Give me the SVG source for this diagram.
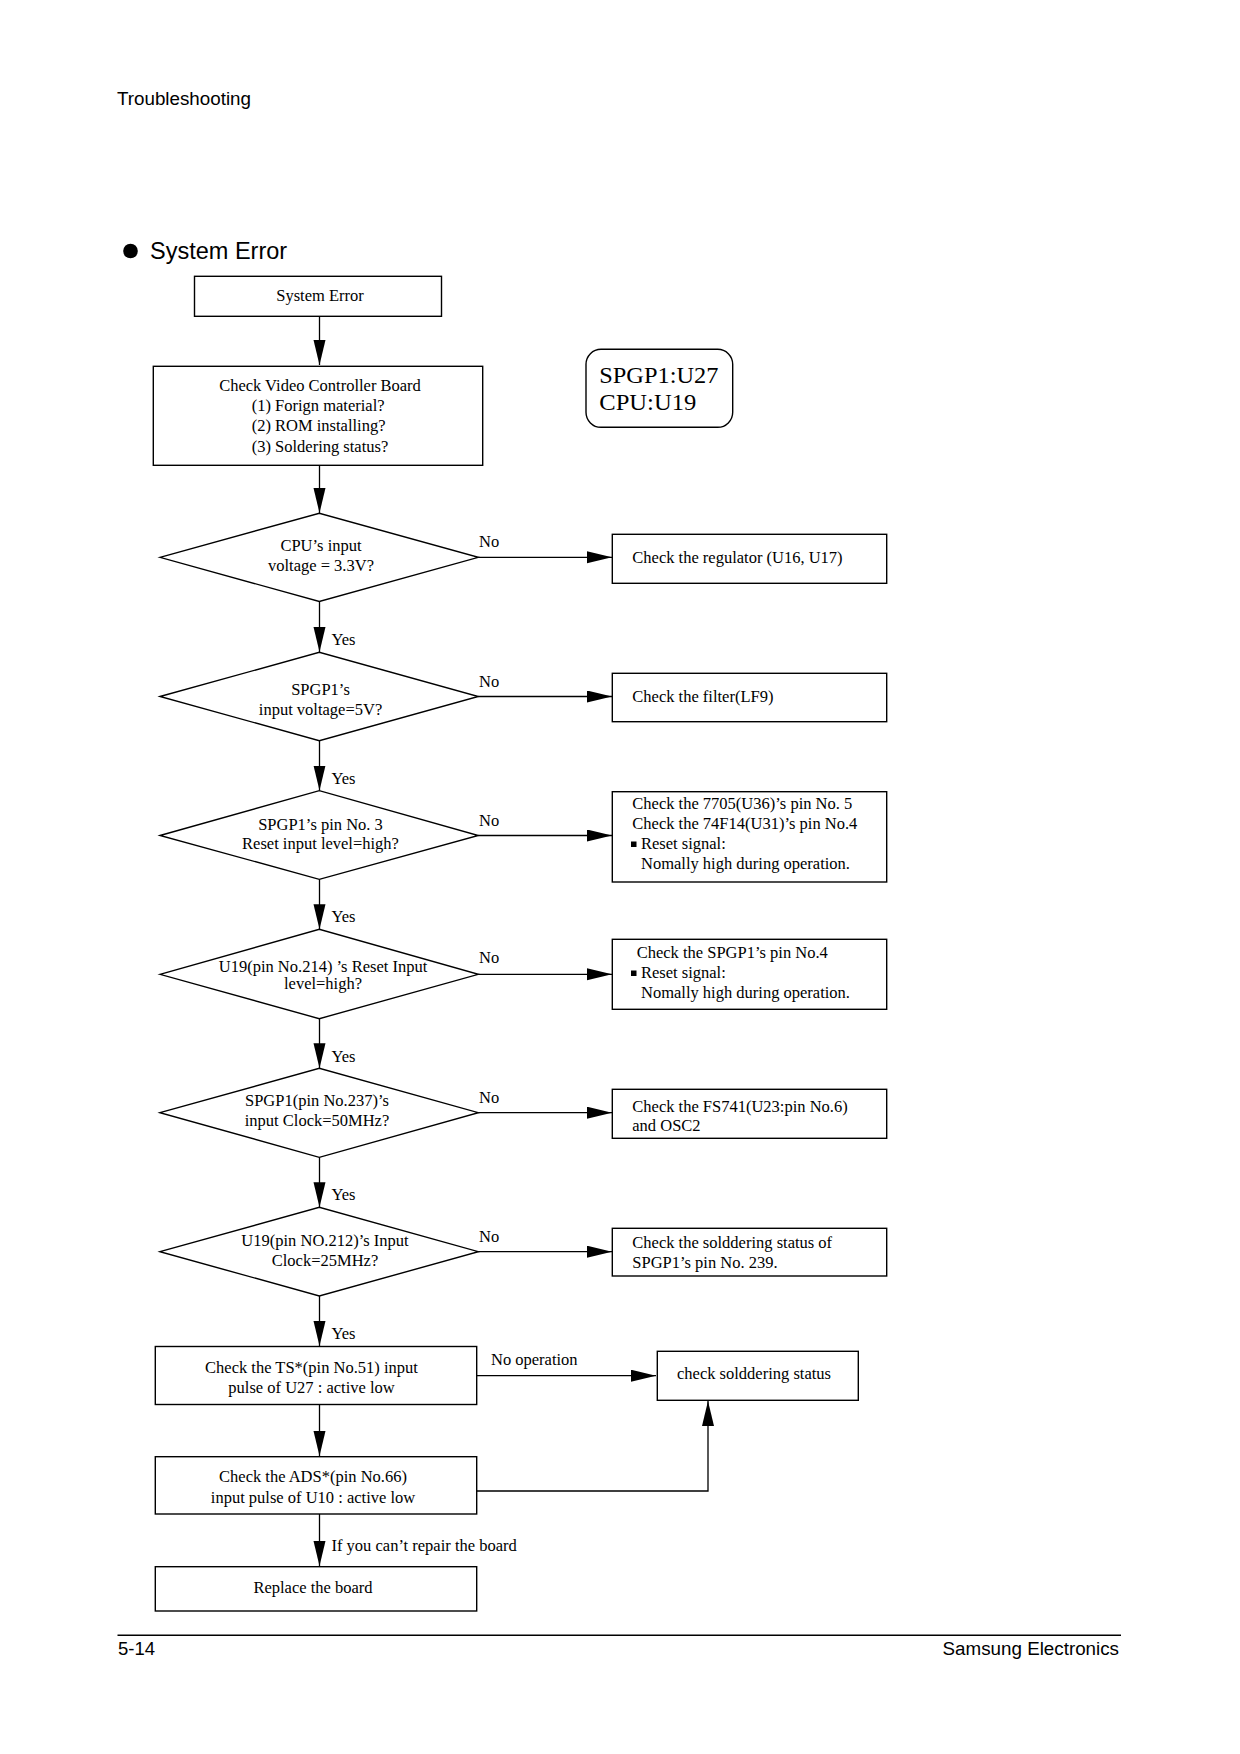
<svg xmlns="http://www.w3.org/2000/svg" width="1240" height="1754" viewBox="0 0 1240 1754">
<style>
.bg{fill:#ffffff}
.box{fill:none;stroke:#000;stroke-width:1.4}
.ln{fill:none;stroke:#000;stroke-width:1.3}
.t{font-family:'Liberation Serif','Times New Roman',serif;font-size:16.5px;fill:#000}
.c{text-anchor:middle}
.h{font-family:'Liberation Sans',Arial,sans-serif;fill:#000}
</style>
<defs>
<marker id="ah" markerUnits="userSpaceOnUse" markerWidth="26" markerHeight="13" refX="25" refY="6" orient="auto">
<path d="M0,0 L25,6 L0,12 z" fill="#000"/>
</marker>
</defs>
<rect class="bg" x="0" y="0" width="1240" height="1754"/>

<g id="header">
<text class="h" x="117" y="105" font-size="18.8">Troubleshooting</text>
<circle cx="130.5" cy="251" r="7.3" fill="#000"/>
<text class="h" x="150" y="259" font-size="23.5">System Error</text>
</g>

<g id="connectors">
<line class="ln" x1="319.5" y1="316.3" x2="319.5" y2="365" marker-end="url(#ah)"/>
<line class="ln" x1="319.5" y1="465.3" x2="319.5" y2="513" marker-end="url(#ah)"/>
<line class="ln" x1="319.5" y1="601.5" x2="319.5" y2="652" marker-end="url(#ah)"/>
<line class="ln" x1="319.5" y1="740.5" x2="319.5" y2="790.5" marker-end="url(#ah)"/>
<line class="ln" x1="319.5" y1="879.3" x2="319.5" y2="929.3" marker-end="url(#ah)"/>
<line class="ln" x1="319.5" y1="1018.7" x2="319.5" y2="1068.3" marker-end="url(#ah)"/>
<line class="ln" x1="319.5" y1="1157.3" x2="319.5" y2="1207.3" marker-end="url(#ah)"/>
<line class="ln" x1="319.5" y1="1296" x2="319.5" y2="1346" marker-end="url(#ah)"/>
<line class="ln" x1="319.5" y1="1404.5" x2="319.5" y2="1456" marker-end="url(#ah)"/>
<line class="ln" x1="319.5" y1="1514" x2="319.5" y2="1566" marker-end="url(#ah)"/>
<line class="ln" x1="478.3" y1="557.3" x2="612" y2="557.3" marker-end="url(#ah)"/>
<line class="ln" x1="478.3" y1="696.5" x2="612" y2="696.5" marker-end="url(#ah)"/>
<line class="ln" x1="478.3" y1="835.5" x2="612" y2="835.5" marker-end="url(#ah)"/>
<line class="ln" x1="478.3" y1="974.3" x2="612" y2="974.3" marker-end="url(#ah)"/>
<line class="ln" x1="478.3" y1="1112.7" x2="612" y2="1112.7" marker-end="url(#ah)"/>
<line class="ln" x1="478.3" y1="1251.7" x2="612" y2="1251.7" marker-end="url(#ah)"/>
<line class="ln" x1="476.7" y1="1375.7" x2="656" y2="1375.7" marker-end="url(#ah)"/>
<polyline class="ln" points="476.7,1491 708,1491 708,1401" marker-end="url(#ah)"/>
<g class="t">
<text x="479" y="547.3">No</text>
<text x="479" y="686.5">No</text>
<text x="479" y="825.7">No</text>
<text x="479" y="963.3">No</text>
<text x="479" y="1102.7">No</text>
<text x="479" y="1241.7">No</text>
<text x="331.5" y="645">Yes</text>
<text x="331.5" y="784">Yes</text>
<text x="331.5" y="922">Yes</text>
<text x="331.5" y="1061.5">Yes</text>
<text x="331.5" y="1200">Yes</text>
<text x="331.5" y="1339">Yes</text>
<text x="491" y="1365">No operation</text>
<text x="331.5" y="1551">If you can’t repair the board</text>
</g>
</g>

<g id="n_start">
<rect class="box" x="194.5" y="276.3" width="247" height="40"/>
<text class="t c" x="320" y="301">System Error</text>
</g>

<g id="n_check_video">
<rect class="box" x="153.3" y="366.3" width="329.4" height="99"/>
<text class="t c" x="320" y="390.7">Check Video Controller Board</text>
<text class="t" x="251.7" y="411.3">(1) Forign material?</text>
<text class="t" x="251.7" y="431.3">(2) ROM installing?</text>
<text class="t" x="251.7" y="451.7">(3) Soldering status?</text>
</g>

<g id="n_legend">
<rect class="box" x="586" y="349.3" width="146.7" height="78" rx="15" ry="15"/>
<text x="599.3" y="383.3" font-family="'Liberation Serif','Times New Roman',serif" font-size="24" textLength="119" lengthAdjust="spacingAndGlyphs">SPGP1:U27</text>
<text x="599.3" y="410" font-family="'Liberation Serif','Times New Roman',serif" font-size="24" textLength="97" lengthAdjust="spacingAndGlyphs">CPU:U19</text>
</g>

<g id="d1">
<polygon class="box" points="160,557.3 319.3,513.3 478.3,557.3 319.3,601.5"/>
<text class="t c" x="321" y="550.7">CPU’s input</text>
<text class="t c" x="321" y="571">voltage = 3.3V?</text>
</g>
<g id="d2">
<polygon class="box" points="160,696.5 319.3,652.3 478.3,696.5 319.3,740.7"/>
<text class="t c" x="320.5" y="695">SPGP1’s</text>
<text class="t c" x="320.5" y="715">input voltage=5V?</text>
</g>
<g id="d3">
<polygon class="box" points="160,835.5 319.3,790.7 478.3,835.5 319.3,879.3"/>
<text class="t c" x="320.5" y="830">SPGP1’s pin No. 3</text>
<text class="t c" x="320.5" y="849">Reset input level=high?</text>
</g>
<g id="d4">
<polygon class="box" points="160,974.3 319.3,929.3 478.3,974.3 319.3,1018.7"/>
<text class="t c" x="323" y="972">U19(pin No.214) ’s Reset Input</text>
<text class="t c" x="323" y="989">level=high?</text>
</g>
<g id="d5">
<polygon class="box" points="160,1112.7 319.3,1068.3 478.3,1112.7 319.3,1157.3"/>
<text class="t c" x="317" y="1105.7">SPGP1(pin No.237)’s</text>
<text class="t c" x="317" y="1125.7">input Clock=50MHz?</text>
</g>
<g id="d6">
<polygon class="box" points="160,1251.7 319.3,1207.3 478.3,1251.7 319.3,1296"/>
<text class="t c" x="325" y="1246">U19(pin NO.212)’s Input</text>
<text class="t c" x="325" y="1266">Clock=25MHz?</text>
</g>

<g id="b1">
<rect class="box" x="612.3" y="534.3" width="274.4" height="49"/>
<text class="t" x="632.3" y="562.7">Check the regulator (U16, U17)</text>
</g>
<g id="b2">
<rect class="box" x="612.3" y="673.3" width="274.4" height="48.4"/>
<text class="t" x="632.3" y="701.7">Check the filter(LF9)</text>
</g>
<g id="b3">
<rect class="box" x="612.3" y="791.7" width="274.4" height="90.3"/>
<text class="t" x="632.3" y="809">Check the 7705(U36)’s pin No. 5</text>
<text class="t" x="632.3" y="829">Check the 74F14(U31)’s pin No.4</text>
<rect x="631" y="841.5" width="5.5" height="5.5" fill="#000"/>
<text class="t" x="641" y="849">Reset signal:</text>
<text class="t" x="641" y="869">Nomally high during operation.</text>
</g>
<g id="b4">
<rect class="box" x="612.3" y="939.3" width="274.4" height="70"/>
<text class="t" x="636.7" y="958">Check the SPGP1’s pin No.4</text>
<rect x="631" y="970.5" width="5.5" height="5.5" fill="#000"/>
<text class="t" x="641" y="978">Reset signal:</text>
<text class="t" x="641" y="998">Nomally high during operation.</text>
</g>
<g id="b5">
<rect class="box" x="612.3" y="1089.3" width="274.4" height="49"/>
<text class="t" x="632.3" y="1111.7">Check the FS741(U23:pin No.6)</text>
<text class="t" x="632.3" y="1130.7">and OSC2</text>
</g>
<g id="b6">
<rect class="box" x="612.3" y="1228.3" width="274.4" height="47.7"/>
<text class="t" x="632.3" y="1248.3">Check the solddering status of</text>
<text class="t" x="632.3" y="1267.7">SPGP1’s pin No. 239.</text>
</g>

<g id="n_ts">
<rect class="box" x="155.3" y="1346.5" width="321.4" height="58"/>
<text class="t c" x="311.5" y="1372.7">Check the TS*(pin No.51) input</text>
<text class="t c" x="311.5" y="1392.7">pulse of U27 : active low</text>
</g>
<g id="n_solder">
<rect class="box" x="657.3" y="1351.3" width="201" height="49"/>
<text class="t c" x="754" y="1379.3">check solddering status</text>
</g>
<g id="n_ads">
<rect class="box" x="155.3" y="1456.7" width="321.4" height="57.3"/>
<text class="t c" x="313" y="1481.7">Check the ADS*(pin No.66)</text>
<text class="t c" x="313" y="1502.7">input pulse of U10 : active low</text>
</g>
<g id="n_replace">
<rect class="box" x="155.3" y="1566.7" width="321.4" height="44.3"/>
<text class="t c" x="313" y="1592.7">Replace the board</text>
</g>

<g id="footer">
<line x1="117.5" y1="1635.3" x2="1121" y2="1635.3" stroke="#000" stroke-width="1.4"/>
<text class="h" x="118" y="1655" font-size="18.5">5-14</text>
<text class="h" x="1119" y="1655" font-size="18.8" text-anchor="end">Samsung Electronics</text>
</g>
</svg>
